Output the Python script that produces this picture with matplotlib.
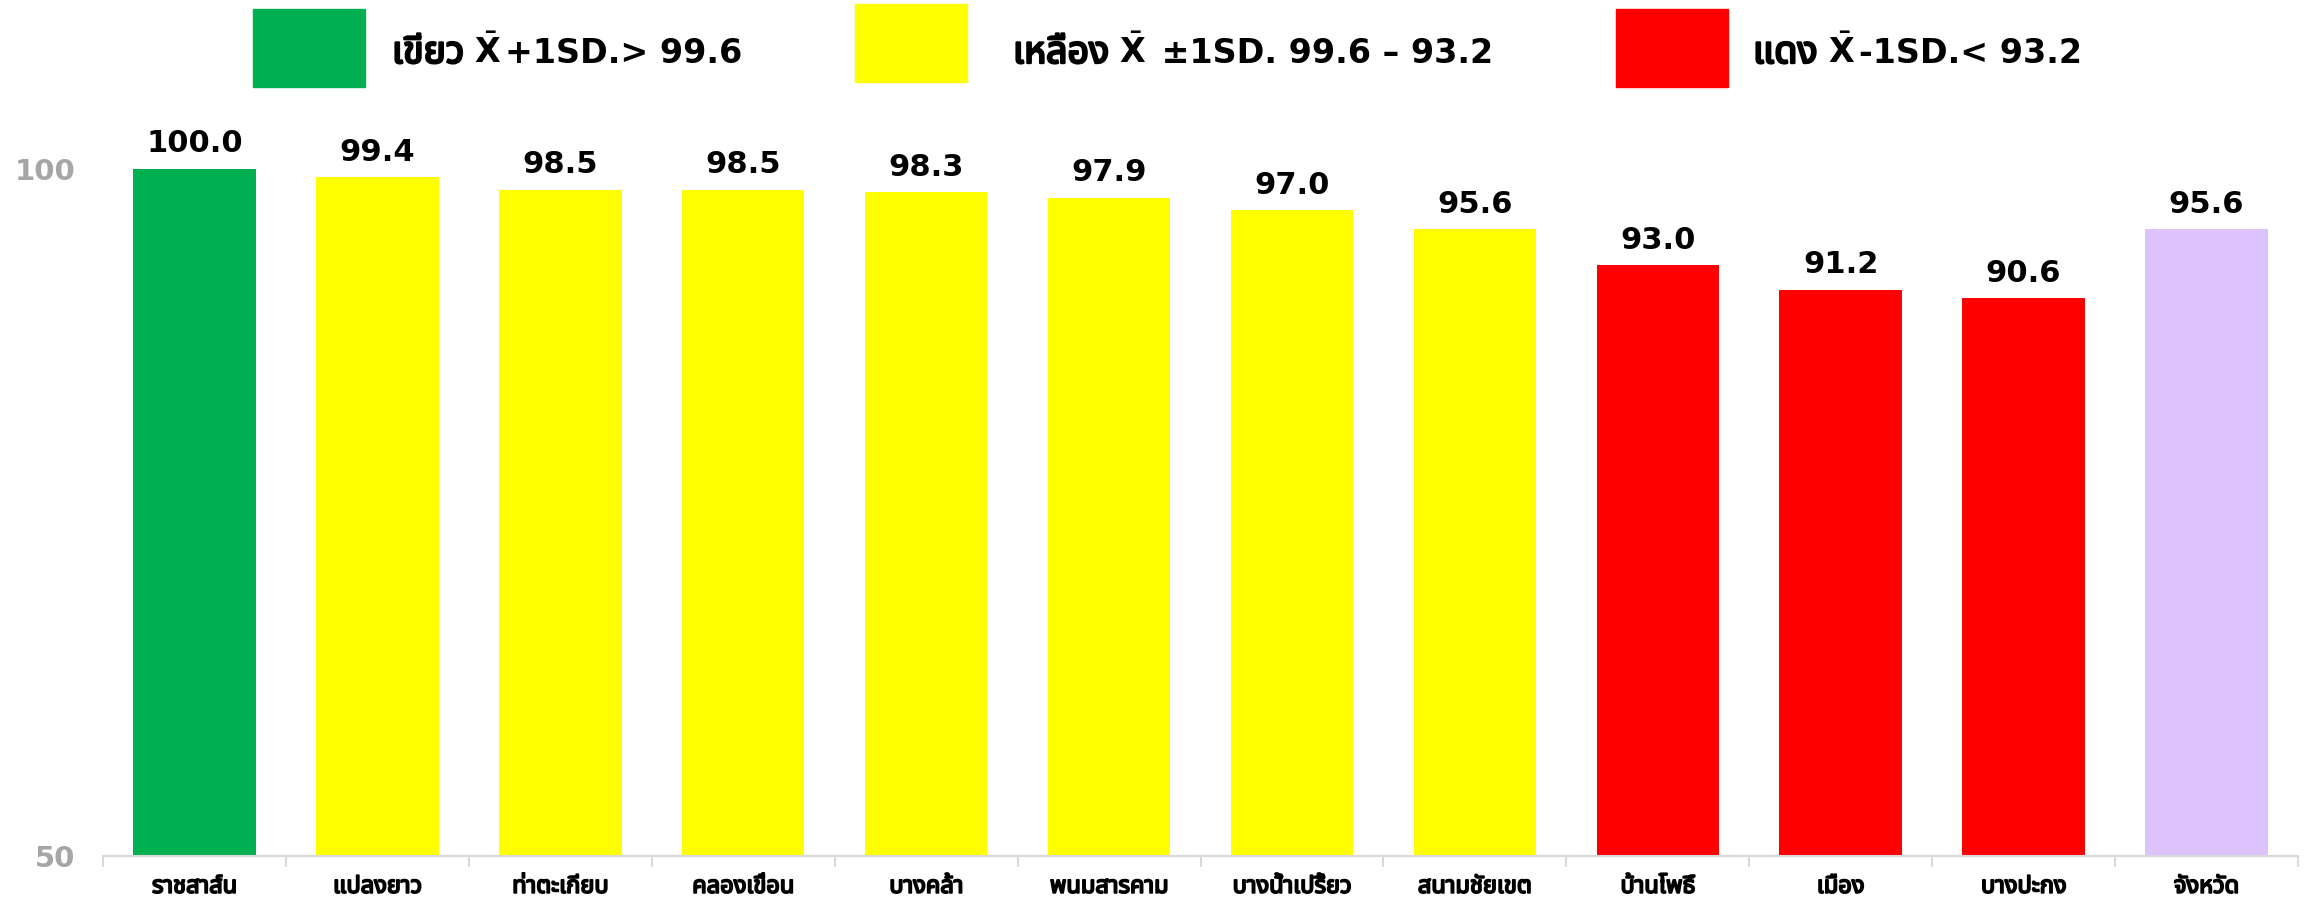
import matplotlib
matplotlib.use("Agg")
import matplotlib.pyplot as plt
import matplotlib.patheffects as pe
from matplotlib.patches import Rectangle
from matplotlib.ticker import FixedLocator

districts = ["ราชสาส์น", "แปลงยาว", "ท่าตะเกียบ", "คลองเขื่อน", "บางคล้า", "พนมสารคาม",
             "บางน้ำเปรี้ยว", "สนามชัยเขต", "บ้านโพธิ์", "เมือง", "บางปะกง", "จังหวัด"]
values = [100.0, 99.4, 98.5, 98.5, 98.3, 97.9, 97.0, 95.6, 93.0, 91.2, 90.6, 95.6]
bar_colors = ["#00B050"] + ["#FFFF00"] * 7 + ["#FF0000"] * 3 + ["#DDC3FD"]

# legend: thai word, then X-bar, then the rest
legend_words = ["เขียว", "เหลือง", "แดง"]
legend_rest = ["+1SD.> 99.6", " ±1SD. 99.6 – 93.2", "-1SD.< 93.2"]
legend_colors = ["#00B050", "#FFFF00", "#FF0000"]

plt.rcParams['font.family'] = ['DejaVu Sans', 'Tahoma', 'Noto Sans Thai', 'Loma', 'Garuda',
                               'Norasi', 'Sarabun']
thai_bold = [pe.withStroke(linewidth=1.3, foreground="black")]
thai_bold_big = [pe.withStroke(linewidth=1.7, foreground="black")]

W, H = 2310, 899
fig = plt.figure(figsize=(W / 100, H / 100), dpi=100)
ax = fig.add_axes([0.0446, 0.0478, 0.9502, 0.7642])

x = list(range(len(values)))
ax.bar(x, values, width=0.67, color=bar_colors, zorder=2)
for i, v in enumerate(values):
    ax.annotate(f"{v:.1f}", (i, v), xytext=(0, 12), textcoords="offset points",
                ha="center", va="baseline", fontsize=22, fontweight="bold", color="black",
                annotation_clip=False)

# district names under the axis
for i, name in enumerate(districts):
    ax.annotate(name, (i, 50), xytext=(0, -26.5), textcoords="offset points",
                ha="center", va="baseline", fontsize=17, color="black",
                annotation_clip=False, path_effects=thai_bold)

ax.set_xlim(-0.5, len(values) - 0.5)
ax.set_ylim(50, 100)
ax.set_yticks([50, 100])
ax.tick_params(axis="y", length=0, pad=20, labelsize=21, labelcolor="#A6A6A6")
for t in ax.get_yticklabels():
    t.set_fontweight("bold")

ax.set_xticks(x)
ax.set_xticklabels([])
ax.xaxis.set_minor_locator(FixedLocator([i - 0.5 for i in range(len(values) + 1)]))
ax.tick_params(axis="x", which="major", length=0)
ax.tick_params(axis="x", which="minor", length=8, width=1.5, color="#D9D9D9")

for s in ["top", "right", "left"]:
    ax.spines[s].set_visible(False)
ax.spines["bottom"].set_color("#D9D9D9")
ax.spines["bottom"].set_linewidth(1.5)

# legend boxes across the top
box_x = [253, 855, 1616]
box_y = [9, 4, 9]
text_x = [392, 1013, 1753]
renderer = fig.canvas.get_renderer()
base_y = 1 - 63 / H
for bx, by, tx, word, rest, col in zip(box_x, box_y, text_x, legend_words, legend_rest, legend_colors):
    fig.add_artist(Rectangle((bx / W, 1 - (by + 78) / H), 112 / W, 78 / H,
                             transform=fig.transFigure, color=col))
    t1 = fig.text(tx / W, base_y, word, fontsize=27, va="baseline", ha="left",
                  path_effects=thai_bold_big)
    x1 = t1.get_window_extent(renderer).x1 + 10
    t2 = fig.text(x1 / W, base_y, r"$\bar{\mathbf{X}}$", fontsize=24, va="baseline", ha="left")
    x2 = t2.get_window_extent(renderer).x1 + 4
    fig.text(x2 / W, base_y, rest, fontsize=24, fontweight="bold", va="baseline", ha="left")

fig.savefig("out.png", dpi=100)
